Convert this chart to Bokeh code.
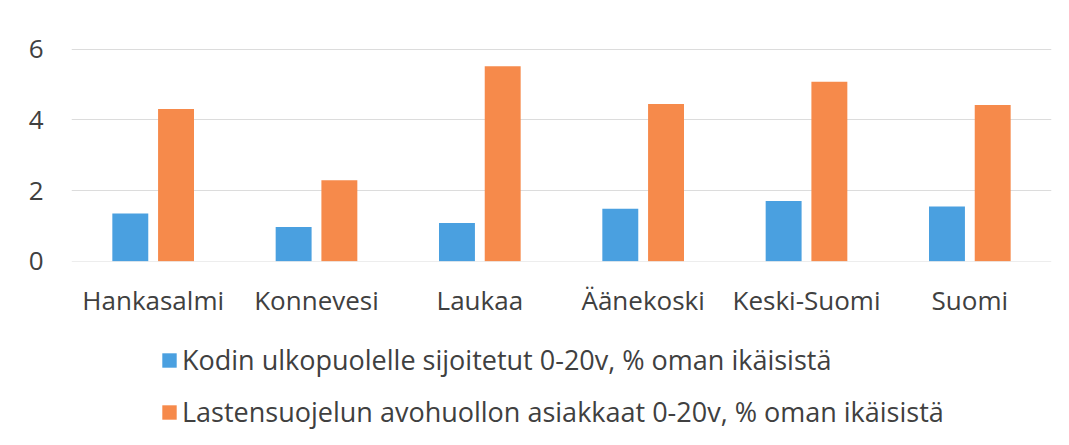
from bokeh.plotting import figure
from bokeh.layouts import column
from bokeh.models import ColumnDataSource, FactorRange, Range1d, Legend, LegendItem, FixedTicker
from bokeh.transform import dodge
from bokeh.embed import file_html
from bokeh.resources import INLINE

categories = ["Hankasalmi", "Konnevesi", "Laukaa", "Äänekoski", "Keski-Suomi", "Suomi"]
sijoitetut = [1.35, 0.97, 1.08, 1.48, 1.70, 1.55]
avohuolto = [4.31, 2.29, 5.52, 4.45, 5.08, 4.42]
series_names = [
    "Kodin ulkopuolelle sijoitetut 0-20v, % oman ikäisistä",
    "Lastensuojelun avohuollon asiakkaat 0-20v, % oman ikäisistä",
]
y_ticks = [0, 2, 4, 6]

FONT = "Open Sans"
TXT = "#404040"
BLUE = "#4AA0E0"
ORANGE = "#F68A4B"

src = ColumnDataSource(dict(cat=categories, a=sijoitetut, b=avohuolto))

p = figure(
    width=1053, height=320,
    x_range=FactorRange(*categories, range_padding=0),
    y_range=Range1d(-0.01, 6.02),
    output_backend="svg", toolbar_location=None,
    min_border_left=71, min_border_right=2, min_border_top=48,
    min_border_bottom=54,
)
p.outline_line_color = None

p.vbar(x=dodge("cat", -0.14, range=p.x_range), top="a", width=0.22,
       source=src, fill_color=BLUE, line_color=None)
p.vbar(x=dodge("cat", 0.14, range=p.x_range), top="b", width=0.22,
       source=src, fill_color=ORANGE, line_color=None)

p.xgrid.grid_line_color = None
p.ygrid.grid_line_color = "#DCDCDC"
p.ygrid.grid_line_width = 1

p.yaxis.ticker = FixedTicker(ticks=y_ticks)
for ax in (p.xaxis[0], p.yaxis[0]):
    ax.axis_line_color = None
    ax.major_tick_line_color = None
    ax.minor_tick_line_color = None
    ax.major_label_text_font = FONT
    ax.major_label_text_font_size = "26px"
    ax.major_label_text_color = TXT
p.xaxis.major_label_standoff = 14
p.yaxis.major_label_standoff = 22

# legend panel: a plot whose ranges lie away from the data, holding only the legend
lp = figure(
    width=1053, height=115,
    x_range=Range1d(100, 101), y_range=Range1d(100, 101),
    output_backend="svg", toolbar_location=None,
    x_axis_location=None, y_axis_location=None,
    min_border=0,
)
lp.outline_line_color = None
lp.grid.grid_line_color = None
lr1 = lp.vbar(x="a", top="a", width=0.1, source=src, fill_color=BLUE, line_color=None)
lr2 = lp.vbar(x="b", top="b", width=0.1, source=src, fill_color=ORANGE, line_color=None)

legend = Legend(
    items=[LegendItem(label=series_names[0], renderers=[lr1]),
           LegendItem(label=series_names[1], renderers=[lr2])],
    orientation="vertical",
    location=(89, 5),
    label_text_font=FONT, label_text_font_size="27px", label_text_color=TXT,
    glyph_width=18, glyph_height=18, label_height=30, spacing=15,
    label_standoff=4, padding=4, margin=0,
    border_line_color=None, background_fill_alpha=0,
)
lp.add_layout(legend)

layout = column(p, lp, spacing=0)
open("out.html", "w").write(file_html(layout, INLINE))
